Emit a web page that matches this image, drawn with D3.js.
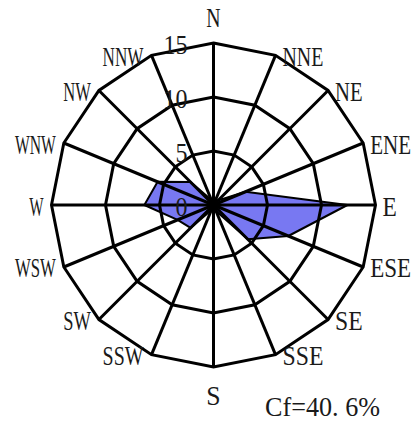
<!DOCTYPE html>
<html>
<head>
<meta charset="utf-8">
<script src="https://cdn.jsdelivr.net/npm/d3@7"></script>
<style>
  html, body { margin: 0; padding: 0; background: #fff; }
  svg { display: block; }
  text { font-family: "Liberation Serif", "DejaVu Serif", serif; fill: #1a1a1a; }
</style>
</head>
<body>
<svg id="chart" width="415" height="421"></svg>
<script>
// Wind directions, clockwise from north
const directions = ["N", "NNE", "NE", "ENE", "E", "ESE", "SE", "SSE",
                    "S", "SSW", "SW", "WSW", "W", "WNW", "NW", "NNW"];
// Frequency (%) of wind from each direction
const frequency = [0.5, 0.5, 0.6, 3.2, 12.4, 7.5, 4.5, 0.6,
                   0.4, 0.5, 3.0, 3.6, 6.4, 5.6, 3.0, 0.5];
// Radial ring values and their labels
const ringValues = [5, 10, 15];
const tickLabels = ["0", "5", "10", "15"];
const calmText = "Cf=40. 6%";

const svg = d3.select("#chart");
const cx = 213.5, cy = 205;
const rMax = 162;
const cell = 13.3;      // half-width character cell for labels
const digitCell = 12;   // character cell for ring labels

const r = d3.scaleLinear().domain([0, 15]).range([0, rMax]);
const step = 2 * Math.PI / directions.length;
const ang = i => i * step;

const g = svg.append("g").attr("transform", `translate(${cx},${cy})`);

// Frequency polygon
const radial = d3.lineRadial()
  .angle((d, i) => ang(i))
  .radius(d => r(d))
  .curve(d3.curveLinearClosed);

g.append("path")
  .datum(frequency)
  .attr("d", radial)
  .attr("fill", "#7878f2")
  .attr("stroke", "#000")
  .attr("stroke-width", 2)
  .attr("stroke-linejoin", "round");

// Grid rings (16-sided polygons)
g.selectAll("path.ring")
  .data(ringValues)
  .join("path")
  .attr("class", "ring")
  .attr("d", v => radial(directions.map(() => v)))
  .attr("fill", "none")
  .attr("stroke", "#000")
  .attr("stroke-width", 3)
  .attr("stroke-linejoin", "miter");

// Spokes
const pt = (i, rad) => [Math.sin(ang(i)) * rad, -Math.cos(ang(i)) * rad];
g.selectAll("line.spoke")
  .data(directions)
  .join("line")
  .attr("class", "spoke")
  .attr("x1", 0).attr("y1", 0)
  .attr("x2", (d, i) => pt(i, r(15))[0])
  .attr("y2", (d, i) => pt(i, r(15))[1])
  .attr("stroke", "#000")
  .attr("stroke-width", 3);

// Direction labels
g.selectAll("text.dir")
  .data(directions)
  .join("text")
  .attr("class", "dir")
  .attr("font-size", 28)
  .attr("dominant-baseline", "central")
  .attr("text-anchor", (d, i) => {
    const s = Math.sin(ang(i));
    return s > 0.1 ? "start" : s < -0.1 ? "end" : "middle";
  })
  .attr("x", (d, i) => {
    const x = pt(i, r(15))[0], s = Math.sin(ang(i));
    return s > 0.1 ? x + 7 : s < -0.1 ? x - 8 : x;
  })
  .attr("y", (d, i) => {
    const y = pt(i, r(15))[1], s = Math.sin(ang(i)), c = Math.cos(ang(i));
    return (Math.abs(s) > 0.1 ? y : y - c * 27) + 1;
  })
  .attr("textLength", d => d.length * cell + 1)
  .attr("lengthAdjust", "spacingAndGlyphs")
  .text(d => d);

// Radial tick labels
g.selectAll("text.tick")
  .data(tickLabels)
  .join("text")
  .attr("class", "tick")
  .attr("font-size", 28)
  .attr("dominant-baseline", "central")
  .attr("text-anchor", "end")
  .attr("x", -26)
  .attr("y", d => -r(+d) + 1)
  .attr("textLength", d => d.length * digitCell)
  .attr("lengthAdjust", "spacingAndGlyphs")
  .text(d => d);

// Calm frequency note
svg.append("text")
  .attr("font-size", 28)
  .attr("x", 265)
  .attr("y", 416)
  .attr("textLength", 115)
  .attr("lengthAdjust", "spacingAndGlyphs")
  .text(calmText);
</script>
</body>
</html>
